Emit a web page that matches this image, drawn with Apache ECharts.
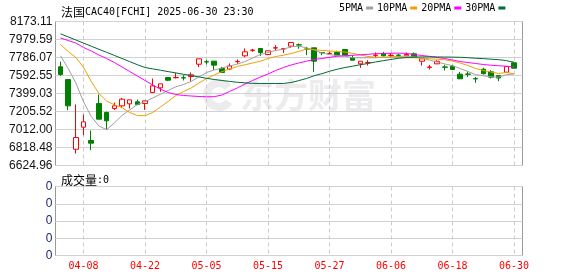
<!DOCTYPE html>
<html><head><meta charset="utf-8">
<script src="https://cdn.jsdelivr.net/npm/echarts@6/dist/echarts.min.js"></script>
<style>html,body{margin:0;padding:0;background:#fff}#c{width:578px;height:276px}</style>
</head><body><div id="c"></div>
<script>
const dates = ['04-03','04-04','04-07','04-08','04-09','04-10','04-11','04-14','04-15','04-16','04-17','04-22','04-23','04-24','04-25','04-28','04-29','04-30',
'05-02','05-05','05-06','05-07','05-08','05-09','05-12','05-13','05-14','05-15','05-16','05-19','05-20','05-21','05-22','05-23','05-26','05-27','05-28','05-29','05-30',
'06-02','06-03','06-04','06-05','06-06','06-09','06-10','06-11','06-12','06-13','06-16','06-17','06-18','06-19','06-20','06-23','06-24','06-25','06-26','06-27','06-30'];
const opens = [7686,7549,6800,7037,6894,7291,7195,7238,7266,7288,
7309,7291,7410,7460,7571,7569,7569,7582,7714,7741,
7747,7668,7661,7741,7804,7863,7883,7818,7888,7878,
7908,7923,7878,7890,7840,7826,7840,7872,7783,7718,
7730,7809,7829,7808,7812,7804,7826,7746,7680,7718,
7685,7692,7607,7609,7559,7660,7632,7592,7628,7729];
const closes = [7603,7266,6926,7094,6865,7123,7105,7266,7338,7331,
7281,7320,7481,7503,7542,7572,7566,7600,7772,7738,
7704,7625,7696,7744,7847,7866,7840,7858,7891,7881,
7947,7920,7874,7747,7837,7830,7811,7811,7757,7746,
7733,7812,7804,7811,7809,7818,7789,7772,7684,7745,
7681,7657,7557,7605,7556,7612,7575,7565,7689,7671];
const lows = [7589,7220,6754,6951,6790,7123,7012,7223,7245,7238,
7273,7223,7410,7417,7532,7560,7539,7524,7682,7711,
7653,7625,7650,7718,7790,7847,7804,7811,7858,7836,
7890,7880,7811,7632,7811,7822,7811,7811,7757,7675,
7700,7783,7800,7790,7790,7800,7789,7700,7657,7718,
7646,7657,7557,7575,7514,7603,7560,7531,7628,7671];
const highs = [7740,7552,7281,7173,7001,7388,7205,7302,7352,7331,
7334,7320,7560,7503,7571,7621,7596,7625,7772,7761,
7747,7686,7722,7765,7883,7879,7883,7858,7919,7881,
7947,7937,7901,7890,7840,7848,7858,7872,7811,7746,
7757,7840,7847,7833,7826,7840,7840,7772,7707,7757,
7707,7707,7632,7639,7578,7675,7650,7593,7689,7732];
const ma5 = [7804.4,7667.8,7511.9,7309.8,7151.8,7049.6,7009.9,7081.9,7162.5,7221.7,
7280.8,7310.9,7350.7,7390.5,7431.3,7471.1,7495.8,7528.1,7576.4,7624.8,
7651.7,7673.2,7694.7,7714.1,7743.1,7780.7,7818.3,7839.8,7861.3,7875.3,
7901.1,7907.6,7891.5,7867.8,7835.5,7816.2,7807.6,7801.1,7783.9,7782.9,
7782.9,7782.9,7788.2,7793.6,7796.8,7802.2,7796.8,7777.5,7758.1,7737.7,
7716.2,7697.9,7667.8,7635.6,7603.0,7590.0,7578.0,7575.0,7600.0,7610.0];
const ma10 = [7925.9,7850.6,7786.1,7678.6,7528.1,7399.1,7318.4,7277.6,7248.5,7194.8,
7162.5,7160.4,7194.8,7253.9,7313.0,7377.6,7420.6,7458.2,7511.9,7560.3,
7598.0,7633.4,7662.5,7689.3,7707.6,7727.0,7746.3,7775.3,7796.8,7810.8,
7829.1,7850.6,7877.5,7869.9,7863.5,7856.0,7850.6,7845.2,7831.2,7813.0,
7796.8,7790.4,7788.2,7786.1,7786.1,7783.9,7782.9,7780.7,7773.2,7767.8,
7761.4,7746.3,7727.0,7700.1,7667.8,7646.3,7630.2,7614.1,7624.8,7610.9];
const ma20 = [7995.7,7968.8,7941.9,7893.6,7856.0,7813.0,7775.3,7732.3,7684.0,7635.6,
7587.2,7538.8,7490.4,7445.3,7409.8,7388.3,7377.6,7372.2,7366.8,7363.6,
7364.7,7382.9,7420.6,7458.2,7501.2,7538.8,7576.4,7608.7,7646.3,7678.6,
7705.5,7727.0,7746.3,7764.6,7775.3,7788.2,7799.0,7804.4,7809.7,7815.1,
7820.5,7826.9,7829.1,7831.2,7833.4,7830.0,7818.3,7807.6,7799.0,7786.1,
7775.3,7759.2,7743.1,7732.3,7721.6,7710.8,7703.3,7696.9,7692.6,7686.1];
const ma30 = [8040.9,8007.5,7974.2,7940.9,7907.6,7874.2,7842.0,7808.6,7775.3,7742.0,
7708.7,7678.5,7663.5,7649.5,7634.5,7620.5,7605.5,7591.5,7577.5,7562.5,
7549.5,7538.8,7529.0,7519.5,7514.0,7508.0,7507.0,7507.0,7507.0,7507.0,
7517.0,7537.7,7560.0,7590.0,7612.0,7638.0,7660.0,7678.0,7693.0,7708.0,
7722.0,7738.0,7752.0,7765.0,7778.0,7786.0,7790.0,7792.0,7793.0,7792.0,
7791.0,7790.0,7788.0,7784.0,7778.0,7774.0,7768.0,7763.0,7752.0,7735.0];
const volumes = dates.map(() => 0);
const priceTicks = ['6624.96','6818.48','7012.00','7205.52','7399.03','7592.55','7786.07','7979.59','8173.11'];
const volumeTicks = ['0','0','0','0','0'];
const maNames = ['5PMA','10PMA','20PMA','30PMA'];
const maColors = ['#a0a0a0','#f0a000','#ff00ff','#006a35'];

const MONO = '"DejaVu Sans Mono", monospace';
const CJK = '"Noto Sans CJK SC", sans-serif';
const showIdx = (i) => i % 8 === 3;
const pMin = 6624.96, pMax = 8173.11;

const chart = echarts.init(document.getElementById('c'), null, {renderer: 'canvas'});
const candleData = dates.map((d, i) => [opens[i], closes[i], lows[i], highs[i]]);
const maData = [ma5, ma10, ma20, ma30];
const titleRich = {
  c: {fontFamily: CJK, fontSize: 12, color: '#000', fontWeight: 'normal'},
  a: {fontFamily: MONO, fontSize: 10, color: '#000', fontWeight: 'normal'}
};

chart.setOption({
  animation: false,
  backgroundColor: '#fff',
  title: [
    {left: 56, top: 1, text: '{c|法国}{a|CAC40[FCHI] 2025-06-30 23:30}',
     textStyle: {fontWeight: 'normal', rich: titleRich}},
    {left: 56, top: 169, text: '{c|成交量}{a|:0}',
     textStyle: {fontWeight: 'normal', rich: titleRich}}
  ],
  legend: {
    data: maNames, left: 339, top: 3, align: 'right', icon: 'rect',
    itemWidth: 7, itemHeight: 3, itemGap: 4, padding: 0,
    textStyle: {fontFamily: MONO, fontSize: 10, color: '#000', padding: [0, -2, 0, 0]}
  },
  graphic: [
    {type: 'arc', z: -10, silent: true, shape: {cx: 219, cy: 95, r: 12, startAngle: 0.6, endAngle: 5.6},
     style: {stroke: '#ececef', lineWidth: 8, fill: null}},
    {type: 'text', z: -10, silent: true, x: 240, y: 95,
     style: {text: '东方财富', font: 'bold 34px "Noto Sans CJK SC"', fill: '#ececef', verticalAlign: 'middle'}}
  ],
  grid: [
    {left: 55.5, top: 21.5, width: 467, height: 144, show: true, borderColor: '#999', borderWidth: 1, backgroundColor: 'transparent'},
    {left: 60.5, top: 21.5, width: 453.5, height: 144},
    {left: 55.5, top: 186.5, width: 467, height: 69, show: true, borderColor: '#999', borderWidth: 1, backgroundColor: 'transparent'},
    {left: 60.5, top: 186.5, width: 453.5, height: 69}
  ],
  xAxis: [
    {gridIndex: 0, type: 'category', data: dates, show: false},
    {gridIndex: 1, type: 'category', data: dates, boundaryGap: false,
     axisLine: {show: false}, axisTick: {show: false}, axisLabel: {show: false},
     splitLine: {show: true, interval: showIdx, lineStyle: {color: '#cccccc', type: [4, 3], width: 1}}},
    {gridIndex: 2, type: 'category', data: dates, show: false},
    {gridIndex: 3, type: 'category', data: dates, boundaryGap: false,
     axisLine: {show: false}, axisTick: {show: false},
     axisLabel: {interval: showIdx, color: '#ff0000', fontFamily: MONO, fontSize: 10, margin: 6},
     splitLine: {show: true, interval: showIdx, lineStyle: {color: '#cccccc', type: [4, 3], width: 1}}}
  ],
  yAxis: [
    {gridIndex: 0, type: 'value', min: pMin, max: pMax, interval: (pMax - pMin) / 8,
     axisLine: {show: false}, axisTick: {show: false},
     axisLabel: {margin: 3, color: '#111', fontFamily: '"Liberation Sans", Arial, sans-serif', fontSize: 12,
       formatter: (v, i) => priceTicks[i] !== undefined ? priceTicks[i] : ''},
     splitLine: {show: true, lineStyle: {color: '#d2d2d2', width: 1}}},
    {gridIndex: 1, type: 'value', min: pMin, max: pMax, show: false, splitLine: {show: false}},
    {gridIndex: 2, type: 'value', min: 0, max: 4, interval: 1,
     axisLine: {show: false}, axisTick: {show: false},
     axisLabel: {margin: 3, color: '#1a2a6a', fontFamily: '"Liberation Sans", Arial, sans-serif', fontSize: 12,
       formatter: (v, i) => volumeTicks[i] !== undefined ? volumeTicks[i] : ''},
     splitLine: {show: true, lineStyle: {color: '#d2d2d2', width: 1}}},
    {gridIndex: 3, type: 'value', min: 0, max: 4, show: false, splitLine: {show: false}}
  ],
  series: [
    {type: 'candlestick', name: 'K', xAxisIndex: 1, yAxisIndex: 1, data: candleData, barWidth: 5, clip: false,
     itemStyle: {color: '#ffffff', color0: '#008000', borderColor: '#ff0000', borderColor0: '#008000', borderWidth: 1}},
    ...maNames.map((n, k) => ({
      type: 'line', name: n, xAxisIndex: 1, yAxisIndex: 1, data: maData[k], showSymbol: false, symbol: 'none',
      clip: false, z: 3, color: maColors[k], lineStyle: {color: maColors[k], width: 1}, itemStyle: {color: maColors[k]}
    })),
    {type: 'bar', name: '成交量', xAxisIndex: 3, yAxisIndex: 3, data: volumes, barWidth: 5, itemStyle: {color: '#008000'}}
  ]
});
</script></body></html>
